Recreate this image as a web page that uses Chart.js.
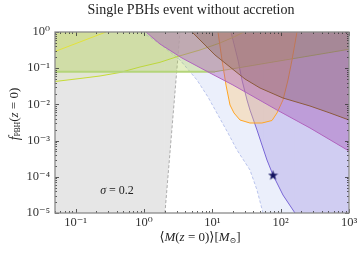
<!DOCTYPE html>
<html>
<head>
<meta charset="utf-8">
<script src="https://cdn.jsdelivr.net/npm/chart.js@4.4.0/dist/chart.umd.min.js"></script>
<style>
  html, body { margin: 0; padding: 0; background: #fff; }
</style>
</head>
<body>
<canvas id="chart" width="361" height="254"></canvas>
<script>
const chartTitle = 'Single PBHs event without accretion';
const xMajor = [0.1, 1, 10, 100, 1000];
const xTickLabels = ['10⁻¹', '10⁰', '10¹', '10²', '10³'];
const yMajor = [1e-5, 1e-4, 1e-3, 1e-2, 1e-1, 1];
const yTickLabels = ['10⁻⁵', '10⁻⁴', '10⁻³', '10⁻²', '10⁻¹', '10⁰'];

// grey region, left of the dashed grey line
const greyM = [0.05, 2.03, 3.37];
const greyF = [1e-5, 1e-5, 1];

// light blue dashed bound (last point closes the region on the bottom edge)
const lblueM = [0.937, 1.718, 3.37, 5.97, 8.65, 12.12, 16.97, 22.98, 35.6, 45.1, 55.2, 1000];
const lblueF = [1, 0.466, 0.1684, 0.0472, 0.016, 0.0051, 0.00162, 5.5e-4, 1.54e-4, 4.3e-5, 1e-5, 1e-5];

// solid slate blue bound
const blueM = [18.78, 23.77, 27.2, 32.2, 35.6, 45.1, 53.3, 63.1, 77.3, 108.2, 162.1, 1000];
const blueF = [1, 0.1684, 0.0472, 0.01323, 0.007, 0.00196, 7.56e-4, 2.91e-4, 1.12e-4, 3.14e-5, 1e-5, 1e-5];

// lime curve
const limeM = [0.05, 0.116, 0.2277, 0.4465, 0.876, 1.718, 3.05, 6.61, 12.96, 21.5, 29.1];
const limeF = [0.0429, 0.0519, 0.0609, 0.0761, 0.1079, 0.1455, 0.2078, 0.3184, 0.4968, 0.751, 1];

// green bound
const greenM = [0.05, 10.96, 1000];
const greenF = [0.08, 0.08, 0.333];

// yellow line top left
const yellowM = [0.05, 0.279];
const yellowF = [0.289, 1];

// purple bound
const purpleM = [1.072, 1.718, 3.6, 9.26, 20.09, 88.4, 268.7, 1000];
const purpleF = [1, 0.466, 0.1913, 0.0737, 0.0343, 0.007, 0.00223, 5.16e-4];

// brown bound
const brownM = [5.05, 7.82, 10.95, 18.16, 30.1, 49.9, 108.2, 268.7, 527, 1000];
const brownF = [1, 0.4375, 0.2316, 0.1079, 0.0503, 0.0284, 0.01502, 0.00903, 0.00579, 0.00371];

// orange bound
const orangeM = [12.12, 13.87, 15.87, 18.16, 20.77, 25.43, 35.6, 53.3, 74.7, 88.4, 108.2, 128.1, 146.6, 173.4];
const orangeF = [1, 0.1684, 0.0343, 0.00962, 0.00579, 0.00371, 0.00306, 0.00306, 0.00359, 0.00579, 0.01323, 0.0472, 0.1684, 1];

// star marker
const starM = [77.3];
const starF = [1.12e-4];

function pts(m, f) {
  return m.map((v, i) => ({ x: v, y: f[i] }));
}

function starImage() {
  const c = document.createElement('canvas');
  c.width = 11; c.height = 11;
  const g = c.getContext('2d');
  g.fillStyle = '#12125e';
  g.beginPath();
  for (let i = 0; i < 10; i++) {
    const r = i % 2 === 0 ? 5.3 : 2.1;
    const a = -Math.PI / 2 + i * Math.PI / 5;
    const px = 5.5 + r * Math.cos(a), py = 5.9 + r * Math.sin(a);
    if (i === 0) g.moveTo(px, py); else g.lineTo(px, py);
  }
  g.closePath();
  g.fill();
  return c;
}

function region(m, f, fillColor, lineColor, extra) {
  return Object.assign({
    data: pts(m, f),
    borderColor: lineColor,
    backgroundColor: fillColor,
    borderWidth: 1,
    pointRadius: 0,
    tension: 0,
    fill: 'end'
  }, extra || {});
}

const hideSeg = (first, last) => ({
  borderColor: c => (first && c.p0DataIndex === 0) || (last && c.p1DataIndex === last) ? 'rgba(0,0,0,0)' : undefined
});

// first dataset is drawn on top
const datasets = [
  { data: pts(starM, starF), pointStyle: starImage(), pointRadius: 5, showLine: false, fill: false },
  region(brownM, brownF, 'rgba(130,90,80,0.3)', '#8c5a3c'),
  region(purpleM, purpleF, 'rgba(160,80,175,0.38)', '#b063be'),
  region(orangeM, orangeF, 'rgba(255,195,110,0.35)', '#ffa524'),
  region(yellowM, yellowF, 'rgba(230,230,60,0.1)', '#e2e23a'),
  region(greenM, greenF, 'rgba(170,205,70,0.32)', '#b4d57a', {
    borderWidth: 2,
    segment: { borderColor: c => c.p0DataIndex === 1 ? '#a2c94e' : undefined, borderWidth: c => c.p0DataIndex === 1 ? 1 : undefined }
  }),
  region(limeM, limeF, 'rgba(200,220,80,0.12)', '#c6dc36'),
  region(blueM, blueF, 'rgba(150,130,220,0.32)', '#7866d6', { segment: hideSeg(false, blueM.length - 1) }),
  region(lblueM, lblueF, 'rgba(222,228,248,0.6)', '#aab6e8', { borderDash: [3, 2], borderWidth: 0.8, segment: hideSeg(false, lblueM.length - 1) }),
  region(greyM, greyF, '#e6e6e6', '#9a9a9a', { borderDash: [3, 2], borderWidth: 0.8, segment: hideSeg(true, 0) })
];

const serif = "'Liberation Serif', 'DejaVu Serif', serif";

function drawRuns(ctx, runs, x, y) {
  // runs: [text, font, dy]
  let total = 0;
  runs.forEach(r => { ctx.font = r[1]; total += ctx.measureText(r[0]).width; });
  let cx = x - total / 2;
  runs.forEach(r => {
    ctx.font = r[1];
    ctx.fillText(r[0], cx, y + (r[2] || 0));
    cx += ctx.measureText(r[0]).width;
  });
}

const decorations = {
  id: 'decorations',
  afterDatasetsDraw(chart) {
    const { ctx, chartArea: a, scales: { x, y } } = chart;
    ctx.save();
    // ticks inside the frame
    ctx.strokeStyle = '#333';
    ctx.lineWidth = 0.8;
    ctx.beginPath();
    for (let d = -2; d <= 3; d++) {
      for (let k = 1; k <= 9; k++) {
        const v = k * Math.pow(10, d);
        if (v < 0.05 || v > 1000) continue;
        const px = Math.round(x.getPixelForValue(v)) + 0.5;
        const len = k === 1 ? 4 : 2;
        ctx.moveTo(px, a.bottom); ctx.lineTo(px, a.bottom - len);
        ctx.moveTo(px, a.top); ctx.lineTo(px, a.top + len);
      }
    }
    for (let d = -5; d <= 0; d++) {
      for (let k = 1; k <= 9; k++) {
        const v = k * Math.pow(10, d);
        if (v > 1) continue;
        const py = Math.round(y.getPixelForValue(v)) + 0.5;
        const len = k === 1 ? 4 : 2;
        ctx.moveTo(a.left, py); ctx.lineTo(a.left + len, py);
        ctx.moveTo(a.right, py); ctx.lineTo(a.right - len, py);
      }
    }
    ctx.stroke();
    // frame
    ctx.strokeStyle = '#8a8a8a';
    ctx.lineWidth = 1.3;
    ctx.strokeRect(a.left, a.top, a.right - a.left, a.bottom - a.top);

    ctx.fillStyle = '#222';
    ctx.textBaseline = 'middle';

    // title
    drawRuns(ctx, [[chartTitle, '14px ' + serif]], 191, 10);

    // sigma label
    drawRuns(ctx, [['σ', 'italic 12px ' + serif], [' = 0.2', '12px ' + serif]],
      x.getPixelForValue(0.404), y.getPixelForValue(4.05e-5));

    // x axis title
    drawRuns(ctx, [
      ['⟨', '13px ' + serif], ['M', 'italic 13px ' + serif], ['(', '13px ' + serif],
      ['z', 'italic 13px ' + serif], [' = 0)⟩[', '13px ' + serif], ['M', 'italic 13px ' + serif],
      ['⊙', '8px ' + serif, 3], [']', '13px ' + serif]
    ], 200, 238);

    // y axis title
    ctx.translate(15, 114);
    ctx.rotate(-Math.PI / 2);
    drawRuns(ctx, [
      ['f', 'italic 14px ' + serif], ['PBH', '7.5px ' + serif, 3], ['(', '13px ' + serif],
      ['z', 'italic 13px ' + serif], [' = 0)', '13px ' + serif]
    ], 0, 0);
    ctx.restore();
  }
};

function fixAxis(size, prop) {
  return function (scale) {
    scale[prop] = size;
    scale.paddingLeft = 0; scale.paddingRight = 0;
    scale.paddingTop = 0; scale.paddingBottom = 0;
  };
}

new Chart(document.getElementById('chart'), {
  type: 'line',
  data: { datasets },
  options: {
    responsive: false,
    animation: false,
    layout: { padding: { left: 0, right: 12, top: 32, bottom: 0 } },
    plugins: {
      legend: { display: false },
      tooltip: { enabled: false },
      title: { display: false }
    },
    scales: {
      x: {
        type: 'logarithmic',
        min: 0.05, max: 1000,
        grid: { display: false, drawTicks: false },
        border: { display: false },
        afterBuildTicks: s => { s.ticks = xMajor.map(v => ({ value: v })); },
        afterFit: fixAxis(41, 'height'),
        ticks: {
          autoSkip: false, maxRotation: 0, padding: 2,
          color: '#333',
          font: { family: serif, size: 12.5 },
          callback: v => xTickLabels[xMajor.indexOf(v)]
        }
      },
      y: {
        type: 'logarithmic',
        min: 1e-5, max: 1,
        grid: { display: false, drawTicks: false },
        border: { display: false },
        afterBuildTicks: s => { s.ticks = yMajor.map(v => ({ value: v })); },
        afterFit: fixAxis(55, 'width'),
        ticks: {
          autoSkip: false, padding: 5,
          color: '#333',
          font: { family: serif, size: 12.5 },
          callback: v => yTickLabels[yMajor.indexOf(v)]
        }
      }
    }
  },
  plugins: [decorations]
});
</script>
</body>
</html>
